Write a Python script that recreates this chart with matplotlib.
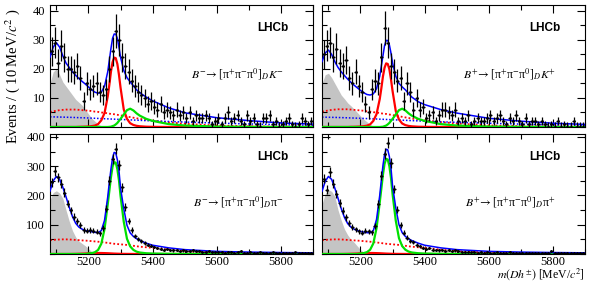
import numpy as np
import matplotlib
matplotlib.use("Agg")
import matplotlib.pyplot as plt
from matplotlib.ticker import MultipleLocator

plt.rcParams['font.family'] = ['Liberation Serif', 'DejaVu Serif']
plt.rcParams['mathtext.fontset'] = 'stix'

# histogram binning: 10 MeV bins from 5080 to 5900
m_lo, m_hi, bw = 5080, 5900, 10
m_bins = np.arange(m_lo + bw / 2, m_hi, bw)

# data (events per bin)
tl_counts = [26, 29, 22, 28, 24, 20, 20, 19, 21, 17,
             9, 15, 13, 14, 15, 12, 11, 13, 20, 26,
             33, 30, 24, 21, 19, 16, 14, 12, 11, 10,
             8, 9, 7, 6, 8, 5, 6, 5, 4, 6,
             4, 5, 3, 5, 2, 4, 3, 3, 4, 3,
             1, 2, 3, 1, 3, 5, 2, 3, 4, 2,
             1, 4, 2, 3, 1, 0, 3, 3, 4, 1,
             2, 0, 1, 2, 3, 1, 0, 1, 3, 2,
             1, 2]
tr_counts = [25, 28, 29, 24, 27, 22, 21, 23, 17, 15,
             19, 14, 12, 8, 5, 13, 16, 15, 24, 34,
             29, 21, 19, 16, 17, 9, 15, 12, 6, 10,
             6, 7, 3, 4, 5, 2, 4, 6, 6, 5,
             4, 6, 2, 3, 2, 4, 1, 2, 3, 2,
             2, 3, 4, 2, 3, 4, 2, 1, 3, 2,
             4, 2, 1, 3, 1, 2, 2, 1, 2, 1,
             0, 1, 0, 2, 0, 1, 0, 0, 2, 0,
             0, 0]
bl_counts = [245, 285, 262, 240, 210, 172, 150, 128, 112, 98,
             82, 80, 82, 79, 76, 71, 88, 155, 250, 325,
             360, 305, 228, 160, 112, 82, 62, 52, 46, 38,
             32, 28, 24, 20, 18, 15, 16, 14, 12, 13,
             11, 12, 10, 11, 12, 10, 9, 8, 7, 9,
             7, 6, 6, 8, 5, 6, 7, 5, 6, 9,
             4, 5, 6, 5, 4, 6, 5, 4, 5, 6,
             3, 5, 4, 5, 3, 4, 6, 3, 4, 3,
             5, 4]
br_counts = [257, 220, 280, 240, 205, 175, 148, 125, 106, 92,
             84, 78, 72, 80, 78, 74, 96, 170, 268, 342,
             380, 312, 222, 152, 100, 72, 56, 46, 40, 31,
             26, 22, 18, 20, 15, 14, 12, 13, 11, 14,
             10, 12, 9, 8, 7, 8, 6, 7, 5, 6,
             5, 6, 5, 4, 6, 5, 4, 5, 6, 4,
             5, 3, 4, 5, 4, 3, 5, 4, 3, 4,
             5, 9, 4, 3, 4, 3, 5, 3, 4, 3,
             4, 3]

# fit curves sampled at these masses
m_curve = [5080, 5090, 5100, 5110, 5120, 5130, 5140, 5150, 5160, 5170,
           5180, 5190, 5200, 5210, 5220, 5230, 5240, 5250, 5260, 5265,
           5270, 5275, 5280, 5285, 5290, 5295, 5300, 5310, 5320, 5330,
           5340, 5350, 5360, 5380, 5400, 5450, 5500, 5600, 5700, 5800, 5900]

tl_total = [24, 27.5, 29, 27.5, 24.5, 22, 20.5, 19, 17.8, 16.7,
            15.7, 14.8, 13.8, 12.8, 12.0, 11.6, 12.0, 14, 19, 23,
            27, 30.5, 32, 32, 30.5, 27.5, 24, 19.5, 17, 15.5,
            14.2, 12.8, 11.8, 10.3, 9.0, 6.6, 4.9, 3.2, 2.2, 1.4, 1.0]
tl_grey = [15, 19, 20, 18, 15.5, 14, 12.5, 11, 9.5, 8.5,
           7.5, 6, 4.5, 3, 2, 1, 0.4, 0, 0, 0,
           0, 0, 0, 0, 0, 0, 0, 0, 0, 0,
           0, 0, 0, 0, 0, 0, 0, 0, 0, 0, 0]
tl_comb = [5.2, 5.4, 5.6, 5.8, 5.9, 6.0, 6.0, 6.0, 6.0, 5.9,
           5.8, 5.7, 5.6, 5.5, 5.3, 5.2, 5.0, 4.9, 4.7, 4.6,
           4.5, 4.45, 4.4, 4.3, 4.2, 4.1, 4.0, 3.8, 3.6, 3.4,
           3.2, 3.0, 2.8, 2.5, 2.2, 1.6, 1.1, 0.5, 0.25, 0.1, 0.05]
tl_other = [3.5, 3.48, 3.45, 3.42, 3.4, 3.37, 3.33, 3.3, 3.26, 3.22,
            3.18, 3.14, 3.1, 3.05, 3.0, 2.95, 2.9, 2.85, 2.8, 2.78,
            2.75, 2.72, 2.7, 2.67, 2.65, 2.62, 2.6, 2.55, 2.5, 2.45,
            2.4, 2.35, 2.3, 2.2, 2.1, 1.9, 1.7, 1.35, 1.05, 0.8, 0.6]
tl_sig = [0, 0, 0, 0, 0, 0, 0, 0, 0, 0.05,
          0.08, 0.12, 0.18, 0.3, 0.5, 1.0, 2.3, 4.8, 10.5, 14.5,
          19, 22.3, 23.9, 23.7, 21.7, 18, 13.5, 6, 2.8, 1.3,
          0.7, 0.4, 0.25, 0.1, 0.05, 0, 0, 0, 0, 0, 0]
tl_mis = [0, 0, 0, 0, 0, 0, 0, 0, 0, 0,
          0, 0, 0, 0, 0, 0, 0, 0, 0, 0.05,
          0.1, 0.3, 0.5, 0.9, 1.4, 2.1, 2.8, 4.3, 5.8, 6.3,
          5.7, 4.7, 3.9, 2.8, 2.1, 1.0, 0.5, 0.15, 0.05, 0, 0]

tr_total = [22.5, 25.5, 26.5, 25, 22.5, 20.5, 19, 17.7, 16.5, 15.4,
            14.4, 13.5, 12.6, 11.8, 11.2, 11.0, 11.4, 13.2, 17.5, 21,
            24.5, 28, 29.8, 29.8, 28.3, 25.5, 22, 17.5, 15, 13.8,
            12.8, 11.5, 10.3, 8.7, 7.7, 6.0, 4.8, 3.0, 2.0, 1.3, 0.9]
tr_grey = [15, 18, 18.5, 17, 15, 13, 11, 9.7, 8.3, 7.3,
           6.2, 5.0, 3.8, 2.7, 1.8, 0.9, 0.3, 0, 0, 0,
           0, 0, 0, 0, 0, 0, 0, 0, 0, 0,
           0, 0, 0, 0, 0, 0, 0, 0, 0, 0, 0]
tr_comb = [5.3, 5.5, 5.7, 5.9, 6.0, 6.1, 6.1, 6.1, 6.1, 6.0,
           5.9, 5.8, 5.7, 5.6, 5.4, 5.3, 5.1, 5.0, 4.8, 4.7,
           4.6, 4.55, 4.5, 4.4, 4.3, 4.2, 4.1, 3.9, 3.7, 3.5,
           3.3, 3.1, 2.9, 2.6, 2.3, 1.7, 1.2, 0.55, 0.25, 0.1, 0.05]
tr_other = [3.4, 3.38, 3.35, 3.32, 3.3, 3.27, 3.23, 3.2, 3.16, 3.12,
            3.08, 3.04, 3.0, 2.95, 2.9, 2.85, 2.8, 2.75, 2.7, 2.68,
            2.65, 2.62, 2.6, 2.57, 2.55, 2.52, 2.5, 2.45, 2.4, 2.35,
            2.3, 2.25, 2.2, 2.1, 2.0, 1.8, 1.6, 1.3, 1.0, 0.75, 0.55]
tr_sig = [0, 0, 0, 0, 0, 0, 0, 0, 0, 0.05,
          0.07, 0.11, 0.17, 0.28, 0.46, 0.9, 2.1, 4.4, 9.6, 13.3,
          17.4, 20.4, 21.9, 21.7, 19.9, 16.5, 12.4, 5.5, 2.6, 1.2,
          0.65, 0.37, 0.23, 0.09, 0.05, 0, 0, 0, 0, 0, 0]
tr_mis = [0, 0, 0, 0, 0, 0, 0, 0, 0, 0,
          0, 0, 0, 0, 0, 0, 0, 0, 0, 0.05,
          0.1, 0.3, 0.5, 0.9, 1.4, 2.1, 2.8, 4.3, 5.8, 6.3,
          5.7, 4.7, 3.9, 2.8, 2.1, 1.0, 0.5, 0.15, 0.05, 0, 0]

bl_total = [215, 250, 265, 255, 228, 195, 160, 128, 105, 92,
            85, 80, 78, 76, 74, 73, 80, 115, 195, 245,
            290, 328, 347, 345, 322, 285, 225, 155, 98, 72,
            60, 52, 46, 37, 30, 21, 15, 9, 6.5, 5, 4]
bl_grey = [185, 210, 216, 208, 190, 150, 112, 80, 58, 44,
           36, 28, 18, 8, 1, 0, 0, 0, 0, 0,
           0, 0, 0, 0, 0, 0, 0, 0, 0, 0,
           0, 0, 0, 0, 0, 0, 0, 0, 0, 0, 0]
bl_comb = [47, 48, 49, 49.5, 50, 50, 49.5, 49, 48, 47.3,
           46.5, 45.8, 45, 44, 43, 42, 41, 39.5, 38, 37.3,
           36.5, 35.8, 35, 34.5, 34, 33.5, 33, 32, 31, 29.5,
           28, 26.5, 25, 23, 21, 15, 10, 4.5, 2, 0.8, 0.3]
bl_sig = [0, 0, 0, 0, 0, 0, 0, 0, 0, 0,
          0, 0, 1.5, 3, 6, 14, 35, 85, 170, 215,
          262, 298, 314, 312, 290, 252, 198, 110, 52, 26,
          14, 8, 5, 2.5, 1.5, 0.7, 0.3, 0.1, 0, 0, 0]
bl_mis = [0, 0, 0, 0, 0, 0, 0, 0.2, 0.4, 0.7,
          1.1, 1.6, 2.2, 2.8, 3.2, 3.4, 3.3, 3.0, 2.6, 2.3,
          2.0, 1.7, 1.4, 1.2, 1.0, 0.8, 0.6, 0.4, 0.3, 0.2,
          0.1, 0.05, 0, 0, 0, 0, 0, 0, 0, 0, 0]

br_total = [214, 248, 265, 255, 225, 190, 155, 125, 104, 92,
            85, 80, 77, 75, 73, 72, 80, 118, 200, 252,
            302, 340, 358, 356, 333, 295, 232, 158, 100, 73,
            60, 52, 46, 37, 30, 21, 15, 9, 6.5, 5, 4]
br_grey = [170, 205, 220, 214, 197, 150, 115, 85, 65, 50,
           40, 27, 15, 6, 1, 0, 0, 0, 0, 0,
           0, 0, 0, 0, 0, 0, 0, 0, 0, 0,
           0, 0, 0, 0, 0, 0, 0, 0, 0, 0, 0]
br_comb = [47, 48, 49, 49.5, 50, 50, 49.5, 49, 48, 47.3,
           46.5, 45.8, 45, 44, 43, 42, 41, 39.5, 38, 37.3,
           36.5, 35.8, 35, 34.5, 34, 33.5, 33, 32, 31, 29.5,
           28, 26.5, 25, 23, 21, 15, 10, 4.5, 2, 0.8, 0.3]
br_sig = [0, 0, 0, 0, 0, 0, 0, 0, 0, 0,
          0, 0, 1.5, 3.1, 6.2, 14.5, 36, 88, 176, 223,
          271, 308, 325, 323, 300, 261, 205, 114, 54, 27,
          14.5, 8.3, 5.2, 2.6, 1.5, 0.7, 0.3, 0.1, 0, 0, 0]
br_mis = bl_mis

decays = [r"$B^{-}\!\rightarrow$[π$^{+}$π$^{-}$π$^{0}$]$_{D}$$K^{-}$",
          r"$B^{+}\!\rightarrow$[π$^{+}$π$^{-}$π$^{0}$]$_{D}$$K^{+}$",
          r"$B^{-}\!\rightarrow$[π$^{+}$π$^{-}$π$^{0}$]$_{D}$π$^{-}$",
          r"$B^{+}\!\rightarrow$[π$^{+}$π$^{-}$π$^{0}$]$_{D}$π$^{+}$"]

panels = [
    dict(counts=tl_counts, total=tl_total, grey=tl_grey, comb=tl_comb, other=tl_other,
         dk=tl_sig, dpi=tl_mis),
    dict(counts=tr_counts, total=tr_total, grey=tr_grey, comb=tr_comb, other=tr_other,
         dk=tr_sig, dpi=tr_mis),
    dict(counts=bl_counts, total=bl_total, grey=bl_grey, comb=bl_comb, other=None,
         dk=bl_mis, dpi=bl_sig),
    dict(counts=br_counts, total=br_total, grey=br_grey, comb=br_comb, other=None,
         dk=br_mis, dpi=br_sig),
]

W, H = 591, 283
fig = plt.figure(figsize=(W / 100, H / 100), dpi=100)
boxes = [(50, 5, 313, 127), (322, 5, 585, 127), (50, 134, 313, 254), (322, 134, 585, 254)]

for i, (p, box) in enumerate(zip(panels, boxes)):
    x0, y0, x1, y1 = box
    ax = fig.add_axes([x0 / W, 1 - y1 / H, (x1 - x0) / W, (y1 - y0) / H])
    top = i < 2

    ax.fill_between(m_curve, p['grey'], color='#c4c4c4', lw=0, zorder=1)
    ax.plot(m_curve, p['comb'], color='red', ls=(0, (1, 1.2)), lw=1.3, zorder=2)
    if p['other'] is not None:
        ax.plot(m_curve, p['other'], color='blue', ls=(0, (1, 1.2)), lw=1.1, zorder=2)
    ax.plot(m_curve, p['dk'], color='red', lw=1.6, zorder=3)
    ax.plot(m_curve, p['dpi'], color='#00e000', lw=1.6, zorder=3)
    ax.plot(m_curve, p['total'], color='blue', lw=1.1, zorder=4)

    n = np.array(p['counts'], dtype=float)
    lo = np.sqrt(n)
    hi = np.where(n > 0, np.sqrt(n), 1.8)
    ax.errorbar(m_bins, n, yerr=[lo, hi], xerr=bw / 2, fmt='.', ms=2, color='k',
                elinewidth=0.9, capsize=0, zorder=5)

    ax.set_xlim(m_lo, m_hi)
    if top:
        ax.set_ylim(0, 42)
        ax.yaxis.set_minor_locator(MultipleLocator(5))
        ax.set_yticks([10, 20, 30, 40])
    else:
        ax.set_ylim(0, 410)
        ax.yaxis.set_minor_locator(MultipleLocator(50))
        ax.set_yticks([100, 200, 300, 400])
    ax.xaxis.set_major_locator(MultipleLocator(200))
    ax.xaxis.set_minor_locator(MultipleLocator(100))
    ax.tick_params(which='both', direction='in', top=True, right=True, labelsize=9, width=0.8)
    ax.tick_params(which='major', length=6)
    ax.tick_params(which='minor', length=3.5)
    ax.tick_params(axis='x', pad=1.5)
    if top:
        ax.tick_params(labelbottom=False)
    if i % 2 == 1:
        ax.tick_params(labelleft=False)
    for s in ax.spines.values():
        s.set_linewidth(0.8)

    ax.text(0.848, 0.81, "LHCb", transform=ax.transAxes, ha='center', va='center',
            fontsize=8.5, fontweight='bold', family='Liberation Sans')
    ax.text(0.715, 0.43, decays[i], transform=ax.transAxes, ha='center', va='center',
            fontsize=8.5)

fig.text(0.021, 0.968, r"Events / ( 10 MeV/$c^{2}$ )", rotation=90, ha='center', va='top',
         fontsize=10.5)
fig.text(585 / W, 0.5 / H, r"$m(Dh^{\pm})$ [MeV/$c^{2}$]", ha='right', va='bottom',
         fontsize=8.5)

fig.savefig("out.png", dpi=100)
